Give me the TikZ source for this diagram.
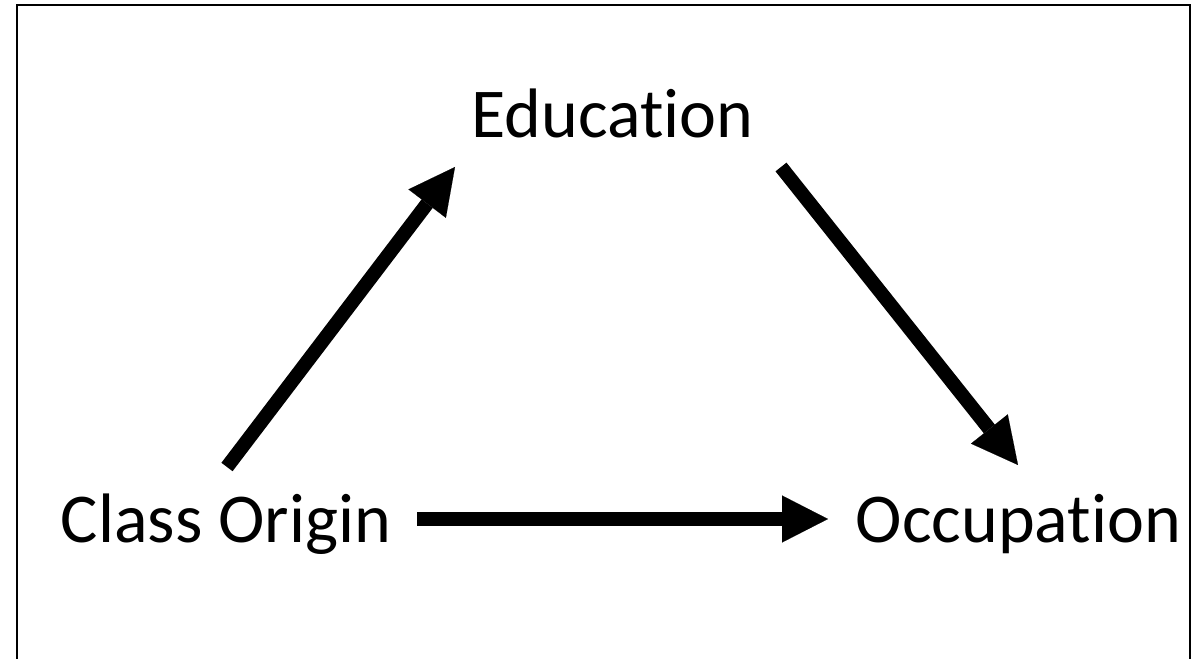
\documentclass[tikz,border=0pt]{standalone}
\usepackage{fontspec}
\setmainfont{Carlito}[RawFeature={-liga}]
\usetikzlibrary{arrows.meta, positioning}

\begin{document}
\begin{tikzpicture}[x=1pt, y=1pt,
                  bigarrow/.style={line width=14pt,
                    -{Triangle[length=46pt, width=47pt, line width=0.1pt]}},
                  concept/.style={font=\fontsize{70}{84}\selectfont,
                    inner sep=0pt, anchor=base}]

                  \useasboundingbox (0,0) rectangle (1203,659);
                  \clip (0,0) rectangle (1203,659);
                  \draw[line width=2.7pt] (17,654) rectangle (1190,-20);

                  % Los tres conceptos.
                  \node[concept] (origin) at (226,116) {Class Origin};
                  \node[concept] (educ) at (612.5,521) {Education};
                  \node[concept] (occup) at (1018.5,116) {Occupation};

                  % Las flechas entre ellos.
                  \draw[bigarrow] ([shift={(1,76)}]origin.base)
                    -- ([shift={(-157.5,-29)}]educ.base);
                  \draw[bigarrow] ([shift={(168.5,-29)}]educ.base)
                    -- ([shift={(-0.5,78)}]occup.base);
                  \draw[bigarrow] ([shift={(191,24)}]origin.base)
                    -- ([shift={(-190.5,24)}]occup.base);

\end{tikzpicture}
\end{document}
